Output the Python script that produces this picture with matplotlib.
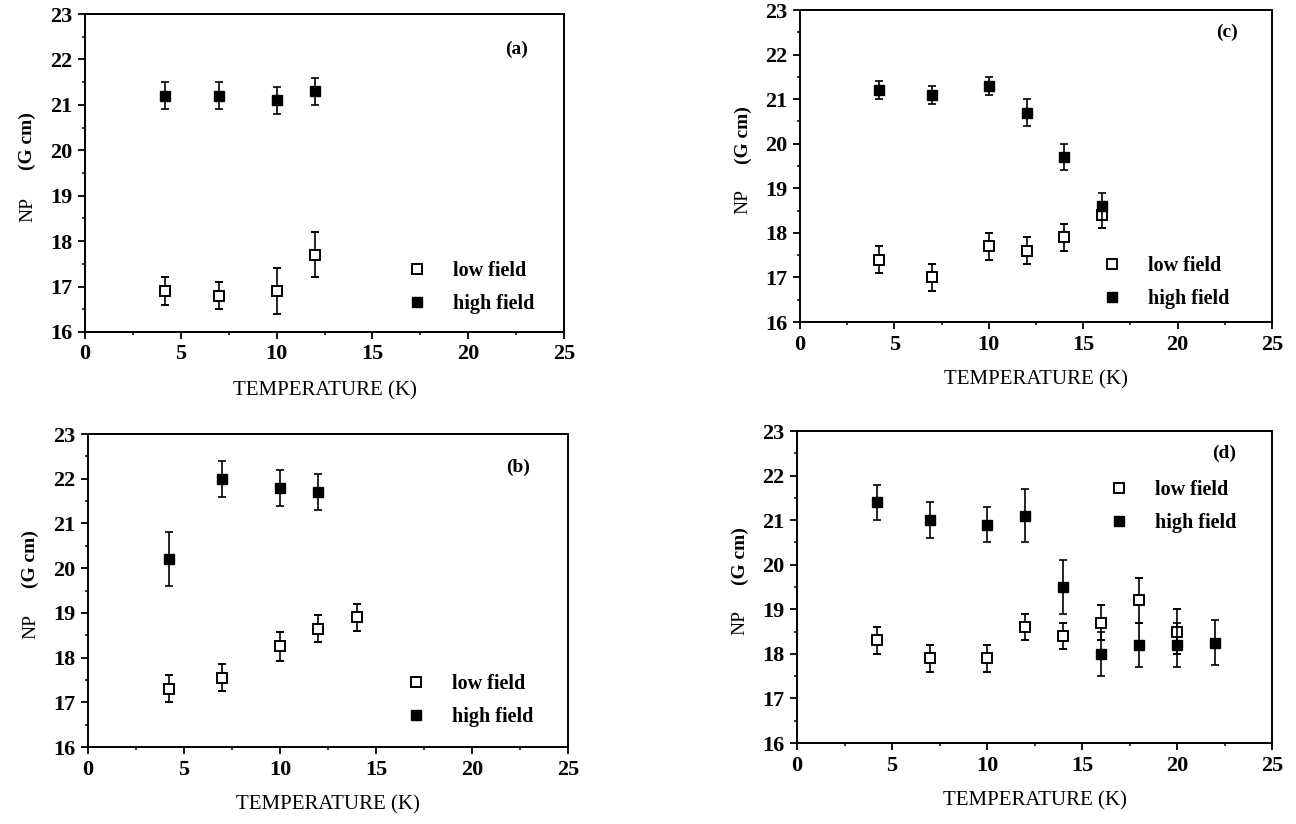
import matplotlib
matplotlib.use("Agg")
import matplotlib.pyplot as plt
from matplotlib.ticker import MultipleLocator

plt.rcParams['font.family'] = ['Liberation Serif', 'DejaVu Serif']

# panel (a)
temps_a = [4.2, 7, 10, 12]
low_a = [16.9, 16.8, 16.9, 17.7]
low_a_err = [0.3, 0.3, 0.5, 0.5]
high_a = [21.2, 21.2, 21.1, 21.3]
high_a_err = [0.3, 0.3, 0.3, 0.3]

# panel (b)
temps_b_low = [4.2, 7, 10, 12, 14]
low_b = [17.3, 17.55, 18.25, 18.65, 18.9]
low_b_err = [0.3, 0.3, 0.32, 0.3, 0.3]
temps_b_high = [4.2, 7, 10, 12]
high_b = [20.2, 22.0, 21.8, 21.7]
high_b_err = [0.6, 0.4, 0.4, 0.4]

# panel (c)
temps_c = [4.2, 7, 10, 12, 14, 16]
low_c = [17.4, 17.0, 17.7, 17.6, 17.9, 18.4]
low_c_err = [0.3, 0.3, 0.3, 0.3, 0.3, 0.3]
high_c = [21.2, 21.1, 21.3, 20.7, 19.7, 18.6]
high_c_err = [0.2, 0.2, 0.2, 0.3, 0.3, 0.3]

# panel (d)
temps_d_low = [4.2, 7, 10, 12, 14, 16, 18, 20]
low_d = [18.3, 17.9, 17.9, 18.6, 18.4, 18.7, 19.2, 18.5]
low_d_err = [0.3, 0.3, 0.3, 0.3, 0.3, 0.4, 0.5, 0.5]
temps_d_high = [4.2, 7, 10, 12, 14, 16, 18, 20, 22]
high_d = [21.4, 21.0, 20.9, 21.1, 19.5, 18.0, 18.2, 18.2, 18.25]
high_d_err = [0.4, 0.4, 0.4, 0.6, 0.6, 0.5, 0.5, 0.5, 0.5]

panels = [
    # tag, rect, low, high, legend anchor (T, NP), tag pos
    ('(a)', [0.0656, 0.5971, 0.3696, 0.3859],
     (temps_a, low_a, low_a_err), (temps_a, high_a, high_a_err),
     (16.8, 16.985), (0.90, 0.889)),
    ('(b)', [0.0679, 0.0934, 0.3704, 0.3799],
     (temps_b_low, low_b, low_b_err), (temps_b_high, high_b, high_b_err),
     (16.57, 17.035), (0.895, 0.895)),
    ('(c)', [0.6173, 0.6092, 0.3642, 0.3786],
     (temps_c, low_c, low_c_err), (temps_c, high_c, high_c_err),
     (15.97, 16.89), (0.905, 0.928)),
    ('(d)', [0.6150, 0.0983, 0.3665, 0.3786],
     (temps_d_low, low_d, low_d_err), (temps_d_high, high_d, high_d_err),
     (16.4, 21.30), (0.90, 0.927)),
]

fig = plt.figure(figsize=(12.96, 8.24), dpi=100)

for tag, rect, low, high, leg, tagpos in panels:
    ax = fig.add_axes(rect)
    ax.errorbar(low[0], low[1], yerr=low[2], fmt='s', ms=7, mfc='white',
                mec='black', mew=1.4, ecolor='black', elinewidth=1.2,
                capsize=3, capthick=1.2, label='low field', zorder=3)
    ax.errorbar(high[0], high[1], yerr=high[2], fmt='s', ms=7.5, mfc='black',
                mec='black', ecolor='black', elinewidth=1.2,
                capsize=3, capthick=1.2, label='high field', zorder=4)

    ax.set_xlim(0, 25)
    ax.set_ylim(16, 23)
    ax.xaxis.set_major_locator(MultipleLocator(5))
    ax.xaxis.set_minor_locator(MultipleLocator(2.5))
    ax.yaxis.set_major_locator(MultipleLocator(1))
    ax.yaxis.set_minor_locator(MultipleLocator(0.5))
    ax.tick_params(which='major', direction='out', length=5, width=1.3,
                   labelsize=16, pad=4)
    ax.tick_params(which='minor', direction='out', length=2.5, width=1.1)
    for lbl in ax.get_xticklabels() + ax.get_yticklabels():
        lbl.set_fontweight('bold')
    for sp in ax.spines.values():
        sp.set_linewidth(1.4)

    ax.text(0.5, -0.185, 'TEMPERATURE (K)', transform=ax.transAxes,
            ha='center', va='center', fontsize=15)
    ax.text(-0.12, 0.385, 'NP', transform=ax.transAxes, rotation=90,
            ha='center', va='center', fontsize=14)
    ax.text(-0.12, 0.60, '(G cm)', transform=ax.transAxes, rotation=90,
            ha='center', va='center', fontsize=14, fontweight='bold')
    ax.text(tagpos[0], tagpos[1], tag, transform=ax.transAxes,
            ha='center', va='center', fontsize=14, fontweight='bold')

    handles, labels = ax.get_legend_handles_labels()
    handles = [h[0] for h in handles]
    ax.legend(handles, labels, loc='center left', bbox_to_anchor=leg,
              bbox_transform=ax.transData, frameon=False, borderpad=0,
              borderaxespad=0, handlelength=1.0, handletextpad=1.3,
              labelspacing=0.65, prop={'size': 14.5, 'weight': 'bold'})

fig.savefig('out.png', dpi=100)
